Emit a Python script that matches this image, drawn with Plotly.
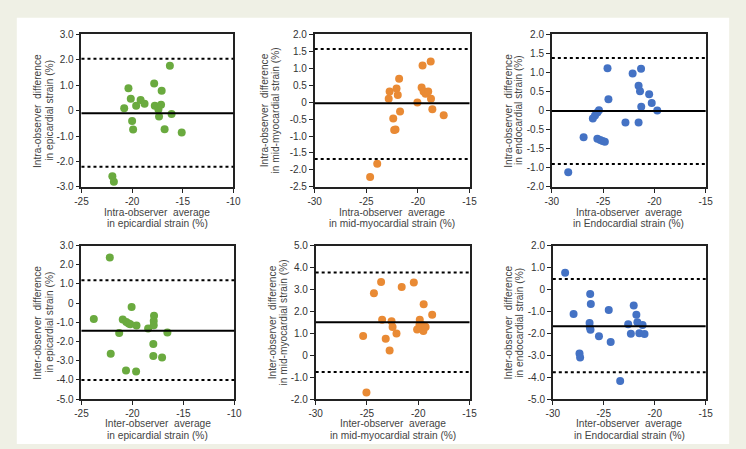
import plotly.graph_objects as go

# ---------------- data ----------------
# Panel A: intra-observer, epicardial
p1_x = [-21.95, -21.8, -20.78, -20.36, -20.13, -20.0, -19.9, -19.6, -19.16, -18.77,
        -17.82, -17.76, -17.4, -17.34, -17.14, -17.08, -16.79, -16.27, -16.1, -15.1]
p1_y = [-2.58, -2.80, 0.09, 0.88, 0.47, -0.41, -0.74, 0.19, 0.42, 0.27,
        1.07, 0.19, 0.04, -0.23, 0.23, 0.78, -0.73, 1.76, -0.13, -0.86]
p1_lines = [-0.10, 2.04, -2.21]   # mean, upper LoA, lower LoA

# Panel B: intra-observer, mid-myocardial
p2_x = [-24.63, -23.94, -22.83, -22.74, -22.39, -22.3, -22.17, -22.07, -21.95, -21.82,
        -21.73, -20.05, -19.64, -19.55, -19.45, -19.26, -19.0, -18.76, -18.73, -18.6, -17.5]
p2_y = [-2.21, -1.82, 0.10, 0.31, -0.48, -0.82, -0.81, 0.40, 0.21, 0.69,
        -0.28, -0.01, 0.43, 1.08, 0.31, 0.25, 0.31, 1.20, 0.10, -0.21, -0.39]
p2_lines = [-0.03, 1.57, -1.68]

# Panel C: intra-observer, endocardial
p3_x = [-28.4, -26.9, -26.0, -25.79, -25.56, -25.4, -25.56, -25.28, -25.05, -24.83, -24.57,
        -24.48, -22.82, -22.12, -21.54, -21.54, -21.4, -21.3, -21.28, -20.51, -20.26, -19.72]
p3_y = [-1.62, -0.70, -0.21, -0.13, -0.05, 0.01, -0.74, -0.77, -0.80, -0.82, 1.11,
        0.30, -0.31, 0.97, -0.31, 0.65, 0.51, 1.10, 0.10, 0.43, 0.20, 0.0]
p3_lines = [-0.01, 1.38, -1.40]
p3_ytext = ["2.0", "1.5", "1.0", "0.5", "0", "-0.5", "-1.5", "-1.0", "-2.0"]

# Panel D: inter-observer, epicardial
p4_x = [-22.22, -23.79, -22.13, -21.3, -20.95, -20.6, -20.37, -20.21, -20.63, -20.08,
        -19.64, -19.6, -18.46, -17.95, -17.88, -17.91, -17.91, -17.95, -17.09, -16.57]
p4_y = [2.38, -0.83, -2.64, -1.56, -0.86, -0.98, -1.07, -1.10, -3.51, -0.21,
        -3.56, -1.17, -1.32, -2.13, -0.66, -0.93, -1.15, -2.76, -2.83, -1.53]
p4_lines = [-1.44, 1.19, -4.01]

# Panel E: inter-observer, mid-myocardial
p5_x = [-25.37, -25.05, -24.32, -23.62, -23.52, -23.17, -22.79, -22.6, -22.5, -22.12, -21.61,
        -20.43, -20.11, -19.85, -19.88, -19.76, -19.63, -19.5, -19.4, -19.28, -19.47, -18.64]
p5_y = [0.87, -1.70, 2.82, 3.34, 1.62, 0.75, 0.21, 1.55, 1.29, 0.99, 3.11,
        3.31, 1.17, 1.62, 1.37, 1.24, 1.37, 1.10, 1.32, 1.29, 2.32, 1.84]
p5_lines = [1.50, 3.77, -0.77]

# Panel F: inter-observer, endocardial
p6_x = [-28.79, -27.96, -27.38, -27.32, -26.33, -26.27, -26.39, -26.36, -26.3, -25.47, -24.51,
        -24.32, -23.39, -22.6, -22.34, -22.06, -21.8, -21.7, -21.51, -21.19, -21.0]
p6_y = [0.76, -1.12, -2.92, -3.11, -0.21, -0.67, -1.53, -1.74, -1.84, -2.14, -0.94,
        -2.40, -4.18, -1.59, -2.02, -0.74, -1.16, -1.50, -2.00, -1.62, -2.04]
p6_lines = [-1.68, 0.47, -3.78]

GREEN = "#6aaa3f"
ORANGE = "#e98a34"
BLUE = "#4472c4"
SP = "\u00a0\u00a0"

panels = [
    dict(x=p1_x, y=p1_y, lines=p1_lines, color=GREEN, xr=[-25, -10], xt=[-25, -20, -15, -10],
         yr=[-3, 3], yt=[3, 2, 1, 0, -1, -2, -3], ytext=["3.0", "2.0", "1.0", "0", "-1.0", "-2.0", "-3.0"],
         ytitle=["Intra-observer" + SP + "difference", "in epicardial strain (%)"],
         xtitle=["Intra-observer" + SP + "average", "in epicardial strain (%)"]),
    dict(x=p2_x, y=p2_y, lines=p2_lines, color=ORANGE, xr=[-30, -15], xt=[-30, -25, -20, -15],
         yr=[-2.5, 2], yt=[2, 1.5, 1, 0.5, 0, -0.5, -1, -1.5, -2, -2.5],
         ytext=["2.0", "1.5", "1.0", "0.5", "0", "-0.5", "-1.0", "-1.5", "-2.0", "-2.5"],
         ytitle=["Intra-observer" + SP + "difference", "in mid-myocardial strain (%)"],
         xtitle=["Intra-observer" + SP + "average", "in mid-myocardial strain (%)"]),
    dict(x=p3_x, y=p3_y, lines=p3_lines, color=BLUE, xr=[-30, -15], xt=[-30, -25, -20, -15],
         yr=[-2, 2], yt=[2, 1.5, 1, 0.5, 0, -0.5, -1, -1.5, -2], ytext=p3_ytext,
         ytitle=["Intra-observer" + SP + "difference", "in endocardial strain (%)"],
         xtitle=["Intra-observer" + SP + "average", "in Endocardial strain (%)"]),
    dict(x=p4_x, y=p4_y, lines=p4_lines, color=GREEN, xr=[-25, -10], xt=[-25, -20, -15, -10],
         yr=[-5, 3], yt=[3, 2, 1, 0, -1, -2, -3, -4, -5],
         ytext=["3.0", "2.0", "1.0", "0", "-1.0", "-2.0", "-3.0", "-4.0", "-5.0"],
         ytitle=["Inter-observer" + SP + "difference", "in epicardial strain (%)"],
         xtitle=["Inter-observer" + SP + "average", "in epicardial strain (%)"]),
    dict(x=p5_x, y=p5_y, lines=p5_lines, color=ORANGE, xr=[-30, -15], xt=[-30, -25, -20, -15],
         yr=[-2, 5], yt=[5, 4, 3, 2, 1, 0, -1, -2],
         ytext=["5.0", "4.0", "3.0", "2.0", "1.0", "0", "-1.0", "-2.0"],
         ytitle=["Inter-observer" + SP + "difference", "in mid-myocardial strain (%)"],
         xtitle=["Inter-observer" + SP + "average", "in mid-myocardial strain (%)"]),
    dict(x=p6_x, y=p6_y, lines=p6_lines, color=BLUE, xr=[-30, -15], xt=[-30, -25, -20, -15],
         yr=[-5, 2], yt=[2, 1, 0, -1, -2, -3, -4, -5],
         ytext=["2.0", "1.0", "0", "-1.0", "-2.0", "-3.0", "-4.0", "-5.0"],
         ytitle=["Inter-observer" + SP + "difference", "in endocardial strain (%)"],
         xtitle=["Inter-observer" + SP + "average", "in Endocardial strain (%)"]),
]

W, H = 746, 449
# plot-area pixel boxes (left, right, top, bottom)
boxes = [(76, 231, 30, 186), (314, 472, 30, 186), (556, 713, 30, 186),
         (76, 232, 246, 403), (315, 472, 246, 403), (557, 713, 246, 403)]
# centres of the two y-title lines (pixels, x)
ytitle_lines = [(31, 43), (263, 274.5), (511.5, 522), (31, 43), (270.5, 282), (511.5, 523)]
# centres of the two x-title lines (pixels, y)
xtitle_lines = [(212.5, 223.5), (212.5, 223.5), (212.5, 223.5), (428.5, 440), (428.5, 440), (428.5, 440)]

fig = go.Figure()
layout = dict(
    width=W, height=H, margin=dict(l=0, r=0, t=0, b=0),
    paper_bgcolor="#eff0e5", plot_bgcolor="white", showlegend=False,
    font=dict(family="Liberation Sans, Arial, sans-serif", size=10, color="#333333"),
)
shapes = [dict(type="rect", xref="paper", yref="paper", x0=10 / W, x1=737 / W, y0=0, y1=1 - 13 / H,
               fillcolor="white", line=dict(width=0), layer="below")]
annotations = []
TF = dict(size=10.2, color="#444444")

for i, p in enumerate(panels):
    n = i + 1
    xa = "x" if n == 1 else f"x{n}"
    ya = "y" if n == 1 else f"y{n}"
    l, r, t, b = boxes[i]
    axis_common = dict(showline=True, linecolor="#222222", linewidth=1.6, mirror=True,
                       ticks="outside", ticklen=4, tickwidth=1.2, tickcolor="#222222",
                       showgrid=False, zeroline=False, tickfont=dict(size=10, color="#333333"))
    layout["xaxis" if n == 1 else f"xaxis{n}"] = dict(
        axis_common, domain=[l / W, r / W], range=p["xr"], tickvals=p["xt"],
        ticktext=[str(v) for v in p["xt"]], anchor=ya)
    layout["yaxis" if n == 1 else f"yaxis{n}"] = dict(
        axis_common, domain=[1 - b / H, 1 - t / H], range=p["yr"], tickvals=p["yt"],
        ticktext=p["ytext"], anchor=xa)
    fig.add_trace(go.Scatter(x=p["x"], y=p["y"], mode="markers", xaxis=xa, yaxis=ya,
                             marker=dict(color=p["color"], size=8, line=dict(width=0))))
    mean, up, lo = p["lines"]
    shapes.append(dict(type="line", xref=f"{xa} domain", yref=ya, x0=0, x1=1, y0=mean, y1=mean,
                       line=dict(color="black", width=2)))
    for v in (up, lo):
        shapes.append(dict(type="line", xref=f"{xa} domain", yref=ya, x0=0, x1=1, y0=v, y1=v,
                           line=dict(color="black", width=2, dash="dot")))
    for txt, yc in zip(p["xtitle"], xtitle_lines[i]):
        annotations.append(dict(text=txt, xref="paper", yref="paper",
                                x=(l + r) / 2 / W, y=1 - yc / H, xanchor="center", yanchor="middle",
                                showarrow=False, font=TF, borderpad=0))
    for txt, xc in zip(p["ytitle"], ytitle_lines[i]):
        annotations.append(dict(text=txt, xref="paper", yref="paper",
                                x=xc / W, y=1 - (t + b) / 2 / H, xanchor="center", yanchor="middle",
                                textangle=-90, showarrow=False, font=TF, borderpad=0))

layout["shapes"] = shapes
layout["annotations"] = annotations
fig.update_layout(**layout)
fig.write_html("out.html")
